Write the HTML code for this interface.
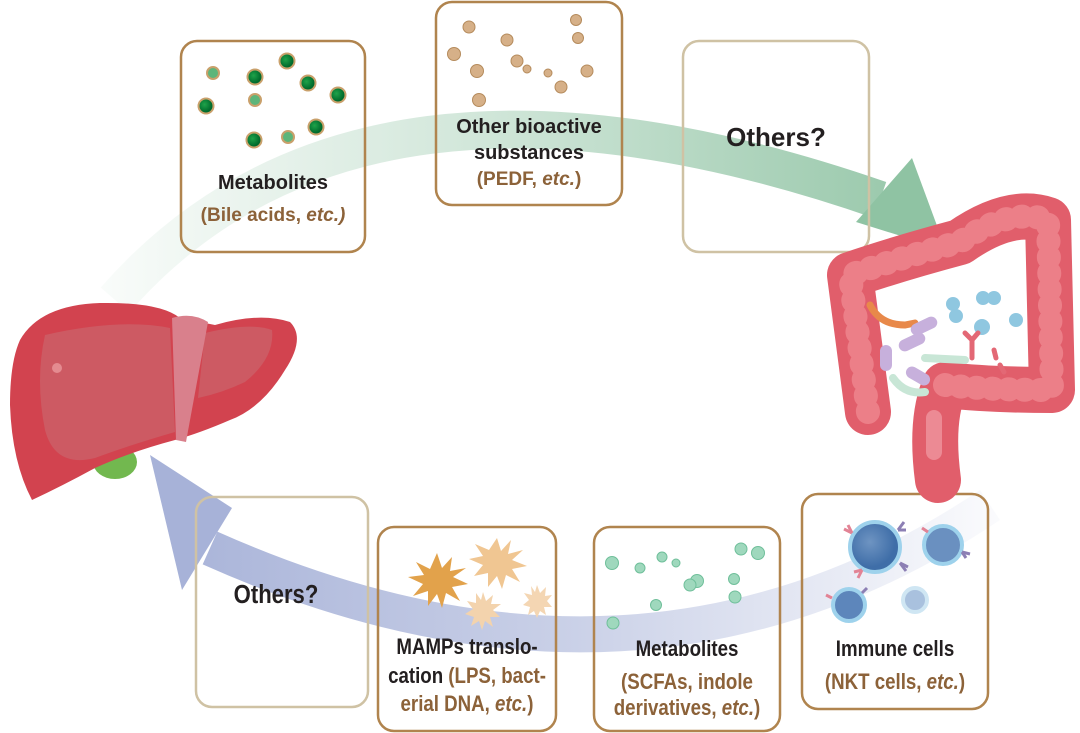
<!DOCTYPE html>
<html><head><meta charset="utf-8"><style>
body{margin:0;background:#fff;}
svg{display:block;}
.t{font-family:"Liberation Sans",sans-serif;font-weight:bold;fill:#231f20;}
.n{font-family:"Liberation Sans",sans-serif;font-weight:bold;fill:#231f20;}
.b{fill:#8c6239;}
</style></head><body>
<svg width="1080" height="733" viewBox="0 0 1080 733" xmlns="http://www.w3.org/2000/svg">
<defs>
<linearGradient id="gg" x1="100" y1="0" x2="940" y2="0" gradientUnits="userSpaceOnUse">
<stop offset="0" stop-color="#8fc3a3" stop-opacity="0.05"/><stop offset="0.5" stop-color="#8fc3a3" stop-opacity="0.45"/><stop offset="1" stop-color="#8fc3a3" stop-opacity="0.95"/></linearGradient>
<linearGradient id="bg" x1="1000" y1="0" x2="150" y2="0" gradientUnits="userSpaceOnUse">
<stop offset="0" stop-color="#a7b2d8" stop-opacity="0.05"/><stop offset="0.5" stop-color="#a7b2d8" stop-opacity="0.6"/><stop offset="1" stop-color="#a7b2d8" stop-opacity="1"/></linearGradient>
<radialGradient id="gd" cx="0.4" cy="0.4"><stop offset="0" stop-color="#1fa34a"/><stop offset="1" stop-color="#006a2c"/></radialGradient>
<radialGradient id="bc" cx="0.4" cy="0.4"><stop offset="0" stop-color="#6e94c2"/><stop offset="1" stop-color="#3f6ea8"/></radialGradient>
</defs>
<!-- arrows -->
<path d="M115 300 Q360 20 880 200" fill="none" stroke="url(#gg)" stroke-width="38"/>
<polygon points="856,222 912,158 946,250" fill="#8fc3a3"/>
<path d="M990 505 Q640 740 210 548" fill="none" stroke="url(#bg)" stroke-width="36"/>
<polygon points="150,455 232,508 182,590" fill="#a7b2d8"/>

<!-- boxes -->
<g fill="none" stroke-width="2.5">
<rect x="181" y="41" width="184" height="211" rx="16" stroke="#b0844e"/>
<rect x="436" y="2" width="186" height="203" rx="16" stroke="#b0844e"/>
<rect x="683" y="41" width="186" height="211" rx="16" stroke="#cfc2a4"/>
<rect x="196" y="497" width="172" height="210" rx="16" stroke="#cfc2a4"/>
<rect x="378" y="527" width="178" height="204" rx="16" stroke="#b0844e"/>
<rect x="594" y="527" width="186" height="204" rx="16" stroke="#b0844e"/>
<rect x="802" y="494" width="186" height="215" rx="16" stroke="#b0844e"/>
</g>

<!-- green dots -->
<g stroke="#c9a06b" stroke-width="2">
<circle cx="213" cy="73" r="6" fill="#5db57a"/><circle cx="255" cy="77" r="7.5" fill="url(#gd)"/>
<circle cx="287" cy="61" r="7.5" fill="url(#gd)"/><circle cx="308" cy="83" r="7.5" fill="url(#gd)"/>
<circle cx="206" cy="106" r="7.5" fill="url(#gd)"/><circle cx="255" cy="100" r="6" fill="#5db57a"/>
<circle cx="338" cy="95" r="7.5" fill="url(#gd)"/><circle cx="316" cy="127" r="7.5" fill="url(#gd)"/>
<circle cx="254" cy="140" r="7.5" fill="url(#gd)"/><circle cx="288" cy="137" r="6" fill="#5db57a"/>
</g>
<!-- tan dots -->
<g fill="#d6b088" stroke="#b58b5c" stroke-width="1">
<circle cx="469" cy="27" r="6"/><circle cx="576" cy="20" r="5.5"/><circle cx="507" cy="40" r="6"/><circle cx="578" cy="38" r="5.5"/>
<circle cx="454" cy="54" r="6.5"/><circle cx="517" cy="61" r="6"/><circle cx="527" cy="69" r="4"/><circle cx="477" cy="71" r="6.5"/>
<circle cx="548" cy="73" r="4"/><circle cx="587" cy="71" r="6"/><circle cx="561" cy="87" r="6"/><circle cx="479" cy="100" r="6.5"/>
</g>
<text class="t" x="273" y="189" font-size="20" text-anchor="middle">Metabolites</text>
<text class="t b" x="273" y="221" font-size="19" text-anchor="middle">(Bile acids, <tspan font-style="italic">etc.)</tspan></text>
<text class="t" x="529" y="133" font-size="20" text-anchor="middle">Other bioactive</text>
<text class="t" x="529" y="159" font-size="20" text-anchor="middle">substances</text>
<text class="t b" x="529" y="185" font-size="19" text-anchor="middle">(PEDF, <tspan font-style="italic">etc.</tspan>)</text>
<text class="t" x="776" y="146" font-size="26" text-anchor="middle">Others?</text>
<g transform="translate(276,0) scale(0.85,1)"><text class="n" x="0" y="603" font-size="26" text-anchor="middle">Others?</text></g>

<!-- stars -->
<g>
<polygon points="437,553 442,568 452,557 450,571 466,568 453,577 468,584 452,587 460,601 446,593 442,608 437,594 428,606 428,591 413,596 423,584 408,577 424,575 416,562 430,569" fill="#e2a24b"/>
<polygon points="497,538 501,551 511,540 508,554 523,550 512,560 527,566 512,569 520,582 506,575 502,589 497,576 488,587 488,573 474,576 483,565 469,559 483,556 475,544 489,550" fill="#f0c692"/>
<polygon points="483,592 486,601 493,595 491,604 501,604 493,610 500,617 490,617 493,627 485,621 482,630 479,621 471,626 474,617 465,614 473,609 467,601 476,603 476,593 481,600" fill="#f3d3ad"/>
<polygon points="537,585 540,593 546,587 545,596 552,595 547,601 552,607 544,607 546,615 540,611 537,618 534,611 528,615 530,607 523,605 529,600 524,593 532,595 531,586 535,592" fill="#f4d6b3"/>
</g>
<g transform="translate(467,0) scale(0.85,1)">
<text class="n" x="0" y="654" font-size="22" text-anchor="middle">MAMPs translo-</text>
<text class="n" x="0" y="683" font-size="22" text-anchor="middle">cation <tspan class="b">(LPS, bact-</tspan></text>
<text class="n b" x="0" y="711" font-size="22" text-anchor="middle">erial DNA, <tspan font-style="italic">etc.</tspan>)</text>
</g>

<!-- mint dots -->
<g fill="#9fd8bd" stroke="#6fbf9a" stroke-width="1">
<circle cx="612" cy="563" r="6.5"/>
<circle cx="662" cy="557" r="5"/><circle cx="640" cy="568" r="5"/><circle cx="676" cy="563" r="4"/>
<circle cx="741" cy="549" r="6"/><circle cx="758" cy="553" r="6.5"/><circle cx="697" cy="581" r="6.5"/><circle cx="690" cy="585" r="6"/>
<circle cx="734" cy="579" r="5.5"/><circle cx="735" cy="597" r="6"/><circle cx="656" cy="605" r="5.5"/><circle cx="613" cy="623" r="6"/>
</g>
<g transform="translate(687,0) scale(0.85,1)">
<text class="n" x="0" y="656" font-size="22" text-anchor="middle">Metabolites</text>
<text class="n b" x="0" y="689" font-size="22" text-anchor="middle">(SCFAs, indole</text>
<text class="n b" x="0" y="715" font-size="22" text-anchor="middle">derivatives, <tspan font-style="italic">etc.</tspan>)</text>
</g>

<!-- immune cells -->
<g stroke="#9ed2ec" stroke-width="4">
<circle cx="875" cy="547" r="25" fill="url(#bc)"/>
<circle cx="943" cy="545" r="19" fill="#6a90c0"/>
<circle cx="849" cy="605" r="16" fill="#5d86bb"/>
<circle cx="915" cy="600" r="12" fill="#a9c1de" stroke="#cfe6f3"/>
</g>
<g stroke-width="3" fill="none">
<path d="M852 533 l-8 -4 m8 4 l-4 -8" stroke="#e28395"/><path d="M898 530 l6 -8 m-6 8 l8 0" stroke="#8c7fb4"/>
<path d="M900 563 l8 4 m-8 -4 l6 8" stroke="#8c7fb4"/><path d="M862 570 l-4 8 m4 -8 l-8 2" stroke="#e28395"/>
<path d="M928 532 l-6 -4" stroke="#e28395"/><path d="M962 552 l8 2 m-8 -2 l4 6" stroke="#8c7fb4"/>
<path d="M832 598 l-6 -3" stroke="#e28395"/><path d="M862 593 l5 -5" stroke="#8c7fb4"/>
</g>
<g transform="translate(895,0) scale(0.85,1)">
<text class="n" x="0" y="656" font-size="22" text-anchor="middle">Immune cells</text>
<text class="n b" x="0" y="689" font-size="22" text-anchor="middle">(NKT cells, <tspan font-style="italic">etc.</tspan>)</text>
</g>

<!-- liver -->
<ellipse cx="115" cy="462" rx="22" ry="17" fill="#72b84f"/>
<path d="M20 340 Q40 305 100 303 Q160 302 180 318 Q200 322 215 325 Q260 312 290 322 Q306 338 285 370 Q262 408 230 420 Q200 433 175 440 Q130 452 95 468 Q62 486 32 500 Q12 462 10 405 Q10 362 20 340 Z" fill="#d2434f"/>
<path d="M45 335 Q120 318 170 328 L175 432 Q130 445 95 458 Q55 468 45 430 Q35 380 45 335Z" fill="#cd5a63"/>
<path d="M205 333 Q250 322 272 330 Q275 358 245 382 Q222 393 198 398Z" fill="#cd5a63"/>
<path d="M172 318 Q192 312 208 322 L186 442 L176 440 Z" fill="#d9808c"/>
<circle cx="57" cy="368" r="5" fill="#e48b90"/>

<!-- colon -->
<g fill="none" stroke-linecap="round" stroke-linejoin="round">
<path d="M868 412 L850 275 Q900 258 960 242 Q1010 207 1048 220 L1052 390 Q990 390 945 385 Q930 420 938 480" stroke="#e15e6b" stroke-width="46"/>
<path d="M868 412 L850 275 Q900 258 960 242 Q1010 207 1048 220 L1052 390 Q990 390 945 385" stroke="#ec7f88" stroke-width="24" stroke-dasharray="1 15"/>
</g>
<rect x="926" y="410" width="16" height="50" rx="8" fill="#ec8a94"/>
<g fill="#8fc7e0"><circle cx="953" cy="304" r="7"/><circle cx="956" cy="316" r="7"/><circle cx="983" cy="298" r="7"/><circle cx="994" cy="298" r="7"/><circle cx="982" cy="327" r="8"/><circle cx="1016" cy="320" r="7"/></g>
<path d="M870 305 Q880 325 905 325 L915 323" stroke="#e8894a" stroke-width="7" fill="none" stroke-linecap="round"/>
<g fill="#c7b0dc"><rect x="910" y="320" width="28" height="12" rx="6" transform="rotate(-25 924 326)"/><rect x="898" y="336" width="28" height="12" rx="6" transform="rotate(-25 912 342)"/><rect x="880" y="345" width="12" height="26" rx="6"/><rect x="905" y="370" width="26" height="12" rx="6" transform="rotate(30 918 376)"/></g>
<path d="M925 358 L965 360 M893 378 Q905 395 925 392" stroke="#c8e6d6" stroke-width="8" fill="none" stroke-linecap="round"/>
<path d="M972 340 L972 358 M965 333 L972 340 L978 333 M994 350 L996 358 M1000 365 L1004 372" stroke="#e36875" stroke-width="5" fill="none" stroke-linecap="round"/>
</svg>
</body></html>
